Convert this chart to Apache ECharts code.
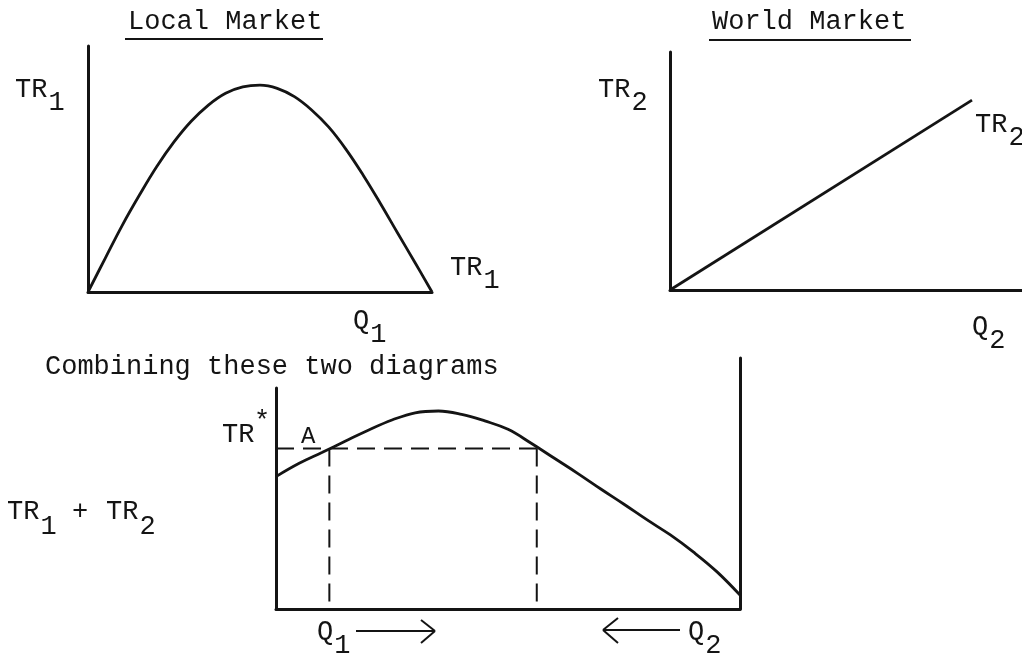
<!DOCTYPE html>
<html>
<head>
<meta charset="utf-8">
<script src="https://cdn.jsdelivr.net/npm/echarts@6/dist/echarts.min.js"></script>
<style>
  html, body { margin: 0; padding: 0; background: #fff; }
  #chart { width: 1022px; height: 657px; }
</style>
</head>
<body>
<div id="chart"></div>
<script>
// Local market: TR1 against Q1 (hump shaped)
var localQ = [0, 5, 10, 15, 20, 25, 30, 35, 40, 45, 50, 55, 60, 65, 70, 75, 80, 85, 90, 95, 100]
var localTR = [0, 13.7, 27.2, 39.5, 51, 61, 69.4, 76, 80.8, 83.4, 84.1, 82.8, 79.4, 74, 67, 58, 47.5, 36, 24, 12.1, 0]

// World market: TR2 against Q2 (straight line)
var worldQ = [0, 85.8]
var worldTR = [0, 79.8]

// Combined TR1 + TR2 along the box
var comboQ = [0, 5, 10, 15, 20, 25, 30, 35, 40, 45, 50, 55, 60, 65, 70, 75, 80, 85, 90, 95, 100]
var comboTR = [59.9, 65.9, 70.9, 76, 81, 85.5, 88.8, 89.6, 88.1, 85.1, 81.3, 75, 68.2, 61.4, 54.3, 47.4, 40.3, 33.5, 25.7, 16.9, 6.3]

// TR* level and the two quantities where it is reached
var trStar = 72.6
var dashQ = [11.5, 56.2]

function zip(xs, ys) {
  var out = []
  for (var i = 0; i < xs.length; i++) out.push([xs[i], ys[i]])
  return out
}

var ink = '#141414'
var font = '27px "Liberation Mono", "DejaVu Sans Mono", monospace'

// text helper: main text plus an optional lowered subscript
function label(x, y, text, sub, subDy) {
  var els = [{
    type: 'text', x: x, y: y,
    style: { text: text, font: font, fill: ink, align: 'left', verticalAlign: 'middle', textAlign: 'left', textVerticalAlign: 'middle' }
  }]
  if (sub) {
    els.push({
      type: 'text', x: x + text.length * 16.2 + 1, y: y + (subDy || 13),
      style: { text: sub, font: font, fill: ink, align: 'left', verticalAlign: 'middle', textAlign: 'left', textVerticalAlign: 'middle' }
    })
  }
  return els
}

function seg(x1, y1, x2, y2, w) {
  return { type: 'line', shape: { x1: x1, y1: y1, x2: x2, y2: y2 }, style: { stroke: ink, lineWidth: w || 2 } }
}

var axisOn = { show: true, onZero: false, lineStyle: { color: ink, width: 3 } }
function vAxis(grid, pos, line) {
  return {
    type: 'value', gridIndex: grid, min: 0, max: 100, position: pos,
    axisLine: line ? axisOn : { show: false },
    axisTick: { show: false }, axisLabel: { show: false }, splitLine: { show: false }
  }
}

var curveStyle = { color: ink, width: 2.8 }
var dashStyle = { color: ink, width: 2, type: [18, 9] }

var graphics = []
  .concat(label(128, 22, 'Local Market'))
  .concat([seg(125, 39, 323, 39, 2)])
  .concat(label(712, 22, 'World Market'))
  .concat([seg(709, 40, 911, 40, 2)])
  .concat(label(15, 90, 'TR', '1'))
  .concat(label(450, 268, 'TR', '1'))
  .concat(label(353, 321, 'Q', '1', 14))
  .concat(label(598, 90, 'TR', '2'))
  .concat(label(975, 125, 'TR', '2'))
  .concat(label(972, 327, 'Q', '2', 14))
  .concat(label(45, 367, 'Combining these two diagrams'))
  .concat(label(222, 435, 'TR'))
  .concat(label(254, 422, '*'))
  .concat([{ type: 'text', x: 301, y: 437, style: { text: 'A', font: '24px "Liberation Mono", monospace', fill: ink, align: 'left', verticalAlign: 'middle', textAlign: 'left', textVerticalAlign: 'middle' } }])
  .concat(label(7, 512, 'TR', '1', 15))
  .concat(label(72, 512, '+'))
  .concat(label(106, 512, 'TR', '2', 15))
  .concat(label(317, 632, 'Q', '1', 14))
  .concat(label(688, 632, 'Q', '2', 14))
  // arrows under the combined box
  .concat([
    seg(356, 631, 434, 631, 2), seg(421, 620, 435, 631, 2), seg(421, 643, 435, 631, 2),
    seg(604, 630, 680, 630, 2), seg(618, 618, 603, 630, 2), seg(618, 643, 603, 630, 2)
  ])

var option = {
  animation: false,
  backgroundColor: '#fff',
  grid: [
    { left: 88, right: 590, top: 46, bottom: 365 },
    { left: 670, right: 0, top: 52, bottom: 367 },
    { left: 276, right: 282, top: 388, bottom: 48 },
    { left: 276, right: 282, top: 358, bottom: 48 }
  ],
  xAxis: [
    vAxis(0, 'bottom', true),
    vAxis(1, 'bottom', true),
    vAxis(2, 'bottom', true),
    vAxis(3, 'bottom', false)
  ],
  yAxis: [
    vAxis(0, 'left', true),
    vAxis(1, 'left', true),
    vAxis(2, 'left', true),
    vAxis(3, 'right', true)
  ],
  graphic: graphics,
  series: [
    {
      type: 'line', xAxisIndex: 0, yAxisIndex: 0, smooth: 0.4, symbol: 'none',
      lineStyle: curveStyle, data: zip(localQ, localTR)
    },
    {
      type: 'line', xAxisIndex: 1, yAxisIndex: 1, symbol: 'none',
      lineStyle: curveStyle, data: zip(worldQ, worldTR)
    },
    {
      type: 'line', xAxisIndex: 2, yAxisIndex: 2, smooth: 0.4, symbol: 'none',
      lineStyle: curveStyle, data: zip(comboQ, comboTR)
    },
    {
      type: 'line', xAxisIndex: 2, yAxisIndex: 2, symbol: 'none',
      lineStyle: dashStyle, data: [[0, trStar], [dashQ[1], trStar]]
    },
    {
      type: 'line', xAxisIndex: 2, yAxisIndex: 2, symbol: 'none',
      lineStyle: dashStyle, data: [[dashQ[0], trStar], [dashQ[0], 0]]
    },
    {
      type: 'line', xAxisIndex: 2, yAxisIndex: 2, symbol: 'none',
      lineStyle: dashStyle, data: [[dashQ[1], trStar], [dashQ[1], 0]]
    }
  ]
}

var mychart = echarts.init(document.getElementById('chart'))
mychart.setOption(option)
</script>
</body>
</html>
